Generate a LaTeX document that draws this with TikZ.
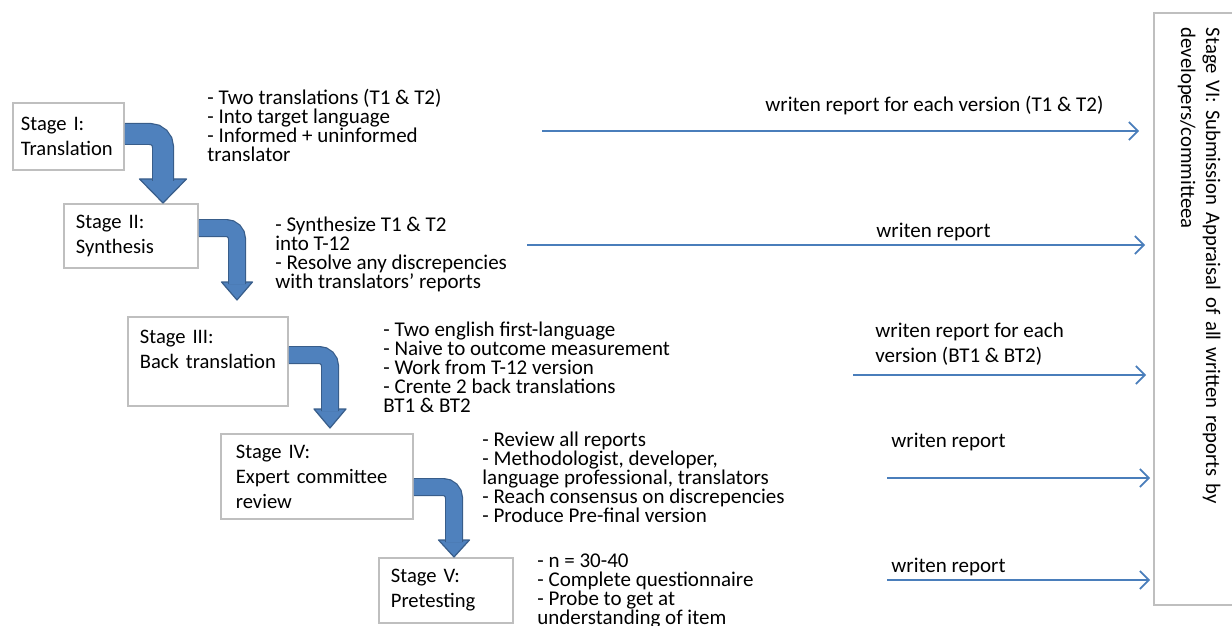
\documentclass[tikz,border=0pt]{standalone}
\usepackage{fontspec}
\setmainfont{Carlito}
\usetikzlibrary{positioning,calc,arrows.meta}
\definecolor{bandblue}{HTML}{4F81BD}
\definecolor{bandline}{HTML}{385D8A}
\definecolor{linkblue}{HTML}{4A7EBB}
\definecolor{boxgray}{HTML}{BFBFBF}

\begin{document}
\begin{tikzpicture}[
  x=0.5pt, y=-0.5pt,
  stage/.style={rectangle, draw=boxgray, line width=0.9pt, anchor=north west, align=left, inner ysep=0pt, font=\fontsize{10.3}{12.5}\selectfont},
  notes/.style={anchor=base west, align=left, inner sep=0pt, font=\fontsize{10.5}{9.5}\selectfont},
  report/.style={anchor=base west, align=left, inner sep=0pt, font=\fontsize{10.5}{12.5}\selectfont},
  link/.style={draw=linkblue, line width=0.9pt, -{Straight Barb[length=4.5pt,width=9pt]}},
  band/.style={draw=bandline, line width=0.6pt, double=bandblue, double distance=#1, rounded corners=0.5*#1+1.5pt},
  head/.style={fill=bandblue, draw=bandline, line width=0.6pt, line join=round}
]
\useasboundingbox (0,0) rectangle (1232,626);

% Stages
\node[stage, minimum height=33.5pt, text width=47.5pt, inner xsep=4pt] (s1) at (12,102) {Stage I:\\Translation};
\node[stage, minimum height=32pt, text width=55pt, inner xsep=6pt] (s2) at (63,203) {Stage II:\\Synthesis};
\node[stage, minimum height=44.5pt, text width=68pt, inner xsep=6pt] (s3) at (127,316) {Stage III:\\Back translation\\\mbox{}};
\node[stage, minimum height=42.5pt, text width=81pt, inner xsep=7.5pt] (s4) at (220,433) {Stage IV:\\Expert committee\\review};
\node[stage, minimum height=32.5pt, text width=55pt, inner xsep=6pt] (s5) at (378,557) {Stage V:\\Pretesting};

% Stage VI box
\node[stage, rotate=-90, minimum height=45pt, text width=281pt, inner xsep=7.5pt, font=\fontsize{10.35}{12.5}\selectfont] (s6) at (1245,12) {Stage VI: Submission Appraisal of all written reports by\\developers/committeea};

% Notes next to each stage (anchored on the last line)
\node[notes] (n1) at (207,162) {- Two translations (T1 \& T2)\\- Into target language\\- Informed + uninformed\\translator};
\node[notes] (n2) at (275,288) {- Synthesize T1 \& T2\\into T-12\\- Resolve any discrepencies\\with translators' reports};
\node[notes] (n3) at (383,412) {- Two english first-language\\- Naive to outcome measurement\\- Work from T-12 version\\- Crente 2 back translations\\BT1 \& BT2};
\node[notes] (n4) at (482,522) {- Review all reports\\- Methodologist, developer,\\language professional, translators\\- Reach consensus on discrepencies\\- Produce Pre-final version};
\node[notes] (n5) at (537,624) {- n = 30-40\\- Complete questionnaire\\- Probe to get at\\understanding of item};

% Bent arrows between stages
\coordinate (k1) at (163,134);
\coordinate (t1) at (k1 |- s2.north);
\filldraw[head] (t1) -- ++(-23.5,-24) -- ++(47,0) -- cycle;
\draw[band=9.8pt] (s1.east |- k1) -| ($(t1)+(0,-22)$);

\coordinate (k2) at (237,228);
\coordinate (t2) at ($(k2 |- s3.north)+(0,-16)$);
\filldraw[head] (t2) -- ++(-15.5,-18) -- ++(31,0) -- cycle;
\draw[band=7.8pt] (s2.east |- k2) -| ($(t2)+(0,-16)$);

\coordinate (k3) at (330,355);
\coordinate (t3) at ($(k3 |- s4.north)+(0,-5)$);
\filldraw[head] (t3) -- ++(-16,-19) -- ++(32,0) -- cycle;
\draw[band=7.8pt] (s3.east |- k3) -| ($(t3)+(0,-17)$);

\coordinate (k4) at (454,487);
\coordinate (t4) at (k4 |- s5.north);
\filldraw[head] (t4) -- ++(-15.5,-17) -- ++(31,0) -- cycle;
\draw[band=7.8pt] (s4.east |- k4) -| ($(t4)+(0,-15)$);

% Written reports to stage VI
\coordinate (r1) at (542,131);
\coordinate (r2) at (527,245);
\coordinate (r3) at (853,375);
\coordinate (r4) at (887,478);
\coordinate (r5) at (887,580);
\draw[link, shorten >=7pt] (r1) -- (r1 -| s6.south);
\draw[link, shorten >=4pt] (r2) -- (r2 -| s6.south);
\draw[link, shorten >=3.5pt] (r3) -- (r3 -| s6.south);
\draw[link, shorten >=1.5pt] (r4) -- (r4 -| s6.south);
\draw[link, shorten >=1.5pt] (r5) -- (r5 -| s6.south);

\node[report] (l1) at (765,112) {writen report for each version (T1 \& T2)};
\node[report] (l2) at (876,237) {writen report};
\node[report] (l3) at (875,362) {writen report for each\\version (BT1 \& BT2)};
\node[report] (l4) at (891,447) {writen report};
\node[report] (l5) at (891,572) {writen report};
\end{tikzpicture}
\end{document}
